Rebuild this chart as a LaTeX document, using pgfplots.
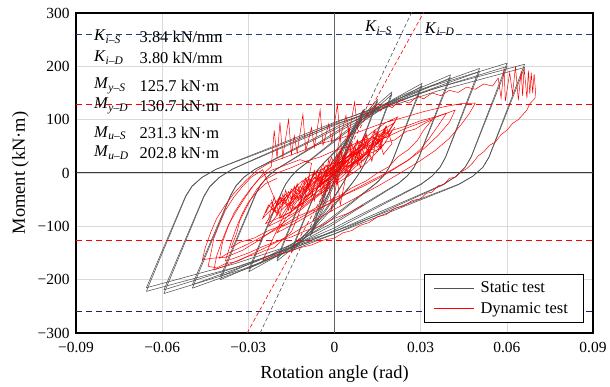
\documentclass[border=0pt]{standalone}
\usepackage{fontspec}
\setmainfont{Liberation Serif}
\usepackage{pgfplots}
\pgfplotsset{compat=1.18}
\definecolor{stc}{HTML}{505050}
\definecolor{navyd}{HTML}{1F3A80}
\definecolor{navyb}{HTML}{1C2A55}
\definecolor{gridc}{HTML}{D9D9D9}
\definecolor{zeroc}{HTML}{606060}
\pgfplotsset{
  st/.style={stc, line width=0.55pt, smooth, tension=0.5, forget plot, mark=none},
  sp/.style={stc, line width=0.55pt, forget plot, mark=none, line join=round},
  dy/.style={red, line width=0.5pt, forget plot, mark=none},
}
\newcommand{\ann}{\fontsize{16.5}{19}\selectfont}
\begin{document}
\begin{tikzpicture}
\begin{axis}[
  name=ax, scale only axis, width=517bp, height=320bp,
  xmin=-0.09, xmax=0.09, ymin=-300, ymax=300,
  scaled x ticks=false, scaled y ticks=false,
  xtick={-0.09,-0.06,-0.03,0,0.03,0.06,0.09},
  xticklabels={−0.09,−0.06,−0.03,0,0.03,0.06,0.09},
  ytick={-300,-200,-100,0,100,200,300},
  yticklabels={−300,−200,−100,0,100,200,300},
  grid=major, major grid style={gridc, line width=0.6pt},
  major tick length=0pt,
  axis line style={black, line width=1.2pt},
  tick label style={font=\fontsize{15.5}{18}\selectfont},
  xticklabel style={yshift=-6bp},
  yticklabel style={xshift=-3bp},
  label style={font=\fontsize{18.5}{22}\selectfont},
  xlabel={Rotation angle (rad)}, ylabel={Moment (kN·m)},
  xlabel style={yshift=-6bp},
  ylabel style={yshift=2bp},
  legend style={at={(rel axis cs:0.983,0.031)}, anchor=south east, draw=black, line width=0.8pt,
    font=\ann, inner xsep=10bp, inner ysep=6bp, row sep=4bp,
    nodes={inner xsep=6bp}},
  legend cell align=left,
  legend image code/.code={\draw[#1] (0bp,0bp) -- (40bp,0bp);},
]
\addlegendimage{stc, line width=0.7pt}
\addlegendentry{Static test}
\addlegendimage{red, line width=0.7pt}
\addlegendentry{Dynamic test}

% zero lines
\addplot[zeroc, line width=1pt, forget plot] coordinates {(0,-300) (0,300)};
\addplot[zeroc!60!black, line width=1pt, forget plot] coordinates {(-0.09,0) (0.09,0)};

% ---------- static test ----------
\addplot[st] coordinates {(-0.005,-62) (-0.0025,-22) (0,12) (0.0025,42) (0.005,62)};
\addplot[st] coordinates {(0.005,62) (0.0025,22) (0,-12) (-0.0025,-42) (-0.005,-62)};
\addplot[st] coordinates {(-0.0075,-90) (-0.004,-40) (0,15) (0.004,60) (0.0075,90)};
\addplot[st] coordinates {(0.0075,90) (0.004,40) (0,-15) (-0.004,-60) (-0.0075,-90)};
\addplot[st] coordinates {(-0.008,-115) (-0.0045,-55) (0,8) (0.005,70) (0.010,118)};
\addplot[st] coordinates {(0.010,118) (0.0055,55) (0.001,-8) (-0.004,-68) (-0.008,-115)};
\addplot[st] coordinates {(-0.0085,-118) (-0.005,-62) (0,2) (0.005,65) (0.0105,120)};
\addplot[st] coordinates {(0.0105,120) (0.006,62) (0.001,-2) (-0.004,-62) (-0.0085,-118)};
% S4
\addplot[st] coordinates {(-0.015,-148) (-0.00475,-14.8) (0.00234,44.9) (0.00867,97.3) (0.015,138)};
\addplot[st] coordinates {(0.015,138) (0.00613,13.8) (-0.00144,-57.7) (-0.00822,-108.5) (-0.015,-148)};
\addplot[st] coordinates {(-0.015,-143.6) (-0.00475,-14.1) (0.00234,42.7) (0.00867,92.4) (0.015,133.9)};
\addplot[st] coordinates {(0.015,133.9) (0.00613,13.1) (-0.00144,-54.8) (-0.00822,-103.1) (-0.015,-143.6)};
% S5
\addplot[st] coordinates {(-0.020,-165) (-0.00858,-16.5) (0.00165,49.4) (0.01083,107.1) (0.020,152)};
\addplot[st] coordinates {(0.020,152) (0.01023,15.2) (-0.00056,-64.3) (-0.01028,-120.9) (-0.020,-165)};
\addplot[st] coordinates {(-0.020,-160) (-0.00858,-15.7) (0.00165,46.9) (0.01083,101.7) (0.020,147.4)};
\addplot[st] coordinates {(0.020,147.4) (0.01023,14.4) (-0.00056,-61.1) (-0.01028,-114.9) (-0.020,-160)};
% S6
\addplot[sp] coordinates {(-0.0298,-185) (-0.0184,-37) (-0.017,-21.1) (-0.0151,-6.9) (-0.0129,5.8) (-0.0103,16.9) (0.004,78.9) (0.0183,131.7) (0.0305,168)};
\addplot[sp] coordinates {(0.0305,168) (0.0203,25.2) (0.0189,9.2) (0.0171,-5.3) (0.0148,-18.2) (0.0122,-29.6) (-0.0025,-93.3) (-0.0172,-147.7) (-0.0298,-185)};
\addplot[sp] coordinates {(-0.0298,-179.5) (-0.0184,-35.5) (-0.017,-20.3) (-0.0151,-6.6) (-0.0129,5.6) (-0.0103,16.2) (0.004,75.7) (0.0183,126.4) (0.0305,163)};
\addplot[sp] coordinates {(0.0305,163) (0.0203,24.2) (0.0189,8.8) (0.0171,-5.1) (0.0148,-17.5) (0.0122,-28.4) (-0.0025,-89.6) (-0.0172,-141.8) (-0.0298,-179.5)};
% S7
\addplot[sp] coordinates {(-0.0397,-200) (-0.0274,-40) (-0.0257,-22.8) (-0.0234,-7.4) (-0.0204,6.5) (-0.0168,18.6) (0.0032,86.4) (0.0232,144.3) (0.0404,184)};
\addplot[sp] coordinates {(0.0404,184) (0.0292,27.6) (0.0276,10.1) (0.0253,-5.7) (0.0223,-19.8) (0.0186,-32.1) (-0.0018,-100.9) (-0.0222,-159.7) (-0.0397,-200)};
\addplot[sp] coordinates {(-0.0397,-194) (-0.0274,-38.4) (-0.0257,-21.9) (-0.0234,-7.1) (-0.0204,6.2) (-0.0168,17.9) (0.0032,82.9) (0.0232,138.5) (0.0404,178.5)};
\addplot[sp] coordinates {(0.0404,178.5) (0.0292,26.5) (0.0276,9.7) (0.0253,-5.5) (0.0223,-19) (0.0186,-30.8) (-0.0018,-96.9) (-0.0222,-153.3) (-0.0397,-194)};
% S8
\addplot[sp] coordinates {(-0.0495,-216) (-0.0362,-43.2) (-0.0343,-24.7) (-0.0315,-8) (-0.0278,6.8) (-0.0232,19.7) (0.0026,92) (0.0284,153.7) (0.0505,196)};
\addplot[sp] coordinates {(0.0505,196) (0.0386,29.4) (0.0367,10.7) (0.0339,-6.2) (0.0302,-21.3) (0.0256,-34.5) (-0.0007,-108.9) (-0.027,-172.4) (-0.0495,-216)};
\addplot[sp] coordinates {(-0.0495,-209.5) (-0.0362,-41.5) (-0.0343,-23.7) (-0.0315,-7.7) (-0.0278,6.5) (-0.0232,18.9) (0.0026,88.3) (0.0284,147.6) (0.0505,190.1)};
\addplot[sp] coordinates {(0.0505,190.1) (0.0386,28.2) (0.0367,10.3) (0.0339,-6) (0.0302,-20.4) (0.0256,-33.1) (-0.0007,-104.5) (-0.027,-165.5) (-0.0495,-209.5)};
% S9
\addplot[sp] coordinates {(-0.0594,-226) (-0.0455,-45.2) (-0.0434,-25.8) (-0.0401,-8.4) (-0.0356,7.2) (-0.0301,20.8) (0.0015,96.7) (0.0331,161.6) (0.0601,206)};
\addplot[sp] coordinates {(0.0601,206) (0.0476,30.9) (0.0455,11.3) (0.0423,-6.5) (0.0378,-22.3) (0.0322,-36.2) (0.0001,-114) (-0.0319,-180.4) (-0.0594,-226)};
\addplot[sp] coordinates {(-0.0594,-219.2) (-0.0455,-43.4) (-0.0434,-24.8) (-0.0401,-8.1) (-0.0356,6.9) (-0.0301,20) (0.0015,92.8) (0.0331,155.1) (0.0601,199.8)};
\addplot[sp] coordinates {(0.0601,199.8) (0.0476,29.7) (0.0455,10.8) (0.0423,-6.2) (0.0378,-21.4) (0.0322,-34.8) (0.0001,-109.4) (-0.0319,-173.2) (-0.0594,-219.2)};
% S10
\addplot[sp] coordinates {(-0.0655,-222) (-0.0518,-44.4) (-0.0496,-25.3) (-0.0461,-8.2) (-0.0412,7.2) (-0.0350,20.6) (0.0004,95.8) (0.0358,160) (0.0662,204)};
\addplot[sp] coordinates {(0.0662,204) (0.0538,30.6) (0.0517,11.2) (0.0481,-6.4) (0.0432,-21.9) (0.0369,-35.6) (0.0011,-112) (-0.0348,-177.3) (-0.0655,-222)};
\addplot[sp] coordinates {(-0.0655,-215.3) (-0.0518,-42.6) (-0.0496,-24.3) (-0.0461,-7.9) (-0.0412,6.9) (-0.0350,19.8) (0.0004,92) (0.0358,153.6) (0.0662,197.9)};
\addplot[sp] coordinates {(0.0662,197.9) (0.0538,29.4) (0.0517,10.7) (0.0481,-6.1) (0.0432,-21) (0.0369,-34.2) (0.0011,-107.5) (-0.0348,-170.2) (-0.0655,-215.3)};

% ---------- dynamic test ----------
\addplot[dy] coordinates {
(0,0) (0.003,15) (0.001,4) (0.005,25) (0.002,8) (-0.003,-14) (-0.006,-28) (-0.004,-12)
(0.001,6) (0.006,30) (0.009,42) (0.006,22) (0.001,2) (-0.005,-25) (-0.009,-42) (-0.011,-50)
(-0.008,-30) (-0.003,-8) (0.003,18) (0.008,40) (0.012,55) (0.014,62) (0.011,40) (0.006,18)
(0,-10) (-0.006,-35) (-0.011,-55) (-0.015,-68) (-0.012,-45) (-0.007,-22) (-0.001,5) (0.005,32)
(0.01,52) (0.015,70) (0.018,80) (0.015,58) (0.01,32) (0.004,8) (-0.003,-22) (-0.009,-48)
(-0.015,-72) (-0.019,-85) (-0.016,-60) (-0.01,-32) (-0.004,-6) (0.003,25) (0.009,50) (0.014,72)
(0.019,88) (0.021,95) (0.018,70) (0.012,40) (0.006,14) (-0.001,-18) (-0.008,-50) (-0.014,-75)
(-0.02,-92) (-0.023,-100) (-0.019,-72) (-0.013,-42) (-0.006,-12)
(0,15) (0.002,70) (0.003,10) (0.005,85) (0.006,20) (0.008,60) (0.009,25) (0.011,75) (0.012,35)
(0.008,15) (0.004,-5) (0.002,-60) (0.001,-10) (-0.001,-70) (-0.002,-15) (-0.004,-55) (-0.005,-20)
(0.001,20) (0.008,55) (0.014,80) (0.018,95) (0.022,105) (0.019,80) (0.014,50) (0.008,20)
(0.002,-10) (-0.005,-40) (-0.012,-70) (-0.019,-98) (-0.026,-125) (-0.032,-145) (-0.038,-158)
(-0.043,-160) (-0.046,-163) (-0.045,-140) (-0.043,-110) (-0.041,-85) (-0.038,-60) (-0.035,-38)
(-0.031,-15) (-0.027,5) (-0.023,18) (-0.017,30) (-0.011,42) (-0.005,55) (0.002,65) (0.009,78)
(0.016,92) (0.024,104) (0.031,115) (0.038,124) (0.044,130) (0.049,131) (0.047,112) (0.044,90)
(0.04,65) (0.035,42) (0.029,20) (0.022,-3) (0.015,-25) (0.008,-45) (0,-68) (-0.008,-92)
(-0.016,-118) (-0.024,-140) (-0.031,-158) (-0.037,-172) (-0.042,-182) (-0.041,-155) (-0.039,-125)
(-0.037,-98) (-0.034,-70) (-0.031,-45) (-0.028,-22) (-0.025,-2) (-0.022,12)
(-0.021,80) (-0.02,28) (-0.019,95) (-0.018,30) (-0.016,100) (-0.015,35) (-0.014,70) (-0.013,38)
(-0.011,110) (-0.01,42) (-0.008,85) (-0.007,48) (-0.005,118) (-0.004,52) (-0.002,92) (-0.001,58)
(0.001,128) (0.002,66) (0.004,108) (0.005,72) (0.007,133) (0.008,82) (0.010,118) (0.012,104)
(0.014,126) (0.016,116) (0.018,130) (0.020,122) (0.023,137) (0.026,131) (0.029,144) (0.031,139)
(0.034,150) (0.037,145) (0.040,155) (0.043,151) (0.046,161) (0.049,157) (0.052,167) (0.055,163)
(0.057,178) (0.058,140) (0.059,196) (0.0595,135) (0.061,188) (0.062,148) (0.063,200) (0.064,136)
(0.065,192) (0.0655,144) (0.066,198) (0.067,140) (0.0675,192) (0.068,148) (0.0685,188) (0.069,150)
(0.0695,186) (0.070,152) (0.0698,140) (0.068,130) (0.067,118) (0.066,112) (0.064,100) (0.062,93)
(0.060,80) (0.058,72) (0.056,58) (0.054,52) (0.052,40) (0.050,32) (0.048,18) (0.046,8) (0.044,2)
(0.042,-8) (0.040,-10) (0.038,-22) (0.036,-24) (0.034,-36) (0.032,-38) (0.030,-48) (0.027,-52)
(0.024,-62) (0.021,-66) (0.018,-78) (0.015,-82) (0.012,-93) (0.009,-98) (0.006,-108) (0.003,-112)
(0,-122) (-0.004,-126) (-0.008,-135) (-0.012,-140) (-0.016,-148) (-0.020,-153) (-0.025,-163)
(-0.022,-130) (-0.019,-95) (-0.016,-65) (-0.012,-35) (-0.007,-10) (0,15) (0.008,40) (0.016,62)
(0.024,82) (0.032,98) (0.038,110) (0.042,118) (0.04,95) (0.036,70) (0.031,45) (0.025,22) (0.018,0)
(0.01,-22) (0.002,-45) (-0.006,-70) (-0.014,-95) (-0.02,-112) (-0.017,-85) (-0.012,-55) (-0.006,-25) (0,0)
};
\addplot[dy] coordinates {
(0,-5) (0.004,12) (0.007,18) (0.011,35) (0.014,40) (0.018,58) (0.021,62) (0.025,78) (0.028,82)
(0.032,95) (0.034,100) (0.031,80) (0.029,62) (0.026,45) (0.022,30) (0.019,12) (0.015,0) (0.011,-15)
(0.006,-28) (0.002,-42) (-0.003,-55) (-0.008,-70) (-0.013,-82) (-0.018,-98) (-0.023,-108) (-0.028,-122)
(-0.033,-130) (-0.036,-140) (-0.034,-112) (-0.033,-90) (-0.031,-68) (-0.029,-48) (-0.027,-30)
(-0.024,-12) (-0.02,0) (-0.015,10) (-0.01,22) (-0.005,30) (0,42) (0.005,50) (0.01,62) (0.015,68)
(0.02,80) (0.025,88) (0.03,98) (0.035,105) (0.039,112) (0.036,88) (0.033,65) (0.03,45) (0.026,25)
(0.021,8) (0.016,-8) (0.01,-25) (0.004,-40) (-0.002,-58) (-0.008,-72) (-0.014,-90) (-0.02,-105)
(-0.026,-122) (-0.032,-138) (-0.037,-150) (-0.04,-160) (-0.039,-130) (-0.037,-100) (-0.035,-75)
(-0.032,-50) (-0.029,-28) (-0.026,-10) (-0.022,5) (-0.017,15) (-0.012,25) (-0.008,18) (-0.01,-40)
(-0.013,-85) (-0.015,-110) (-0.018,-125) (-0.021,-140) (-0.024,-145) (-0.027,-152) (-0.03,-156)
(-0.034,-166) (-0.038,-170) (-0.041,-178) (-0.044,-175) (-0.043,-150) (-0.042,-122) (-0.04,-95)
(-0.038,-70) (-0.035,-45) (-0.032,-25) (-0.029,-8) (-0.025,6) (-0.02,-60) (-0.017,-40) (-0.015,-50)
(-0.012,-25) (-0.01,-35) (-0.007,-8) (-0.005,-18) (-0.002,10) (0,0) (0.003,28) (0.005,18) (0.008,42)
(0.01,32) (0.013,55) (0.015,48) (0.017,65) (0.015,40) (0.013,45) (0.01,22) (0.008,28) (0.005,2)
(0.003,8) (0,-18) (-0.002,-10) (-0.005,-35) (-0.007,-28) (-0.01,-50) (-0.012,-42) (-0.015,-62)
(-0.017,-55) (-0.02,-72) (-0.022,-65) (-0.019,-45) (-0.017,-52) (-0.014,-28) (-0.012,-35) (-0.009,-10)
(-0.007,-18) (-0.004,8) (-0.002,0) (0.001,25) (0.003,18) (0.006,40) (0.008,33) (0.011,55) (0.013,50)
(0.016,70) (0.018,66) (0.02,78) (0.017,52) (0.014,35) (0.011,18) (0.007,2) (0.003,-12) (-0.001,-25)
(-0.006,-42) (-0.011,-58) (-0.016,-75) (-0.021,-88) (-0.024,-95) (-0.02,-62) (-0.016,-40) (-0.012,-18) (-0.007,0) (0,20)
};
\addplot[dy] coordinates {
(-0.024,-75) (-0.022,-55) (-0.021,-68) (-0.019,-45) (-0.018,-58) (-0.016,-35) (-0.015,-48) (-0.013,-22)
(-0.012,-36) (-0.01,-10) (-0.009,-25) (-0.007,5) (-0.006,-12) (-0.004,18) (-0.003,2) (-0.001,30) (0,12)
(0.002,42) (0.003,25) (0.005,52) (0.006,38) (0.008,62) (0.009,48) (0.011,72) (0.012,58) (0.014,80)
(0.016,70) (0.018,88) (0.016,60) (0.014,66) (0.012,42) (0.01,50) (0.008,28) (0.006,35) (0.004,12)
(0.002,20) (0,-5) (-0.002,5) (-0.004,-20) (-0.006,-10) (-0.008,-35) (-0.01,-25) (-0.012,-50) (-0.014,-40)
(-0.016,-62) (-0.018,-55) (-0.02,-75) (-0.022,-68) (-0.025,-85) (-0.023,-60) (-0.021,-70) (-0.019,-48)
(-0.017,-56) (-0.015,-30) (-0.013,-40) (-0.011,-15) (-0.009,-26) (-0.007,0) (-0.005,-10) (-0.003,15)
(-0.001,5) (0.001,32) (0.003,20) (0.005,45) (0.007,35) (0.009,58) (0.011,50) (0.013,68) (0.015,60)
(0.017,78) (0.019,72) (0.021,86)
};
\addplot[dy] coordinates {
(-0.022,-50) (-0.02,-80) (-0.018,-40) (-0.016,-70) (-0.014,-25) (-0.012,-60) (-0.01,-10) (-0.008,-45)
(-0.006,5) (-0.004,-30) (-0.002,25) (0,-15) (0.002,40) (0.004,0) (0.006,55) (0.008,15) (0.01,68)
(0.012,30) (0.014,78) (0.016,45) (0.018,88) (0.02,55) (0.017,35) (0.015,75) (0.013,22) (0.011,62)
(0.009,10) (0.007,50) (0.005,-5) (0.003,35) (0.001,-22) (-0.001,20) (-0.003,-38) (-0.005,5)
(-0.007,-52) (-0.009,-8) (-0.011,-62) (-0.013,-20) (-0.015,-72) (-0.017,-32) (-0.019,-82) (-0.021,-45) (-0.023,-88)
};
\addplot[dy] coordinates {
(0.01,-60) (0.005,-75) (0,-85) (-0.005,-100) (-0.01,-108) (-0.015,-120) (-0.02,-128) (-0.025,-138)
(-0.03,-150) (-0.035,-160) (-0.038,-165) (-0.036,-130) (-0.034,-100) (-0.032,-75) (-0.03,-55)
(-0.027,-35) (-0.024,-20) (-0.02,-10)
};

% ---------- reference lines ----------
\addplot[navyd, line width=1pt, dash pattern=on 6bp off 4bp, forget plot] coordinates {(-0.09,260) (0.09,260)};
\addplot[navyb, line width=1pt, dash pattern=on 6bp off 4bp, forget plot] coordinates {(-0.09,-260) (0.09,-260)};
\addplot[red, line width=1pt, dash pattern=on 6bp off 4bp, forget plot] coordinates {(-0.09,128) (0.09,128)};
\addplot[red, line width=1pt, dash pattern=on 6bp off 4bp, forget plot] coordinates {(-0.09,-127) (0.09,-127)};
\addplot[stc, line width=0.6pt, dash pattern=on 4bp off 2.5bp, forget plot] coordinates {(-0.0259,-300) (0.0285,320)};
\addplot[red, line width=0.6pt, dash pattern=on 4bp off 2.5bp, forget plot] coordinates {(-0.0304,-300) (0.0330,320)};

% ---------- annotations ----------
\node[anchor=west, font=\ann, inner sep=0pt] at (axis cs:-0.0838,255.6) {\textit{K}\textsubscript{\textit{i}–\textit{S}}};
\node[anchor=west, font=\ann, inner sep=0pt] at (axis cs:-0.0679,255.6) {3.84 kN/mm};
\node[anchor=west, font=\ann, inner sep=0pt] at (axis cs:-0.0838,216) {\textit{K}\textsubscript{\textit{i}–\textit{D}}};
\node[anchor=west, font=\ann, inner sep=0pt] at (axis cs:-0.0679,216) {3.80 kN/mm};
\node[anchor=west, font=\ann, inner sep=0pt] at (axis cs:-0.0838,163) {\textit{M}\textsubscript{\textit{y}–\textit{S}}};
\node[anchor=west, font=\ann, inner sep=0pt] at (axis cs:-0.0679,163) {125.7 kN·m};
\node[anchor=west, font=\ann, inner sep=0pt] at (axis cs:-0.0838,125.6) {\textit{M}\textsubscript{\textit{y}–\textit{D}}};
\node[anchor=west, font=\ann, inner sep=0pt] at (axis cs:-0.0679,125.6) {130.7 kN·m};
\node[anchor=west, font=\ann, inner sep=0pt] at (axis cs:-0.0838,74.4) {\textit{M}\textsubscript{\textit{u}–\textit{S}}};
\node[anchor=west, font=\ann, inner sep=0pt] at (axis cs:-0.0679,74.4) {231.3 kN·m};
\node[anchor=west, font=\ann, inner sep=0pt] at (axis cs:-0.0838,38) {\textit{M}\textsubscript{\textit{u}–\textit{D}}};
\node[anchor=west, font=\ann, inner sep=0pt] at (axis cs:-0.0679,38) {202.8 kN·m};
\node[font=\ann, inner sep=0pt] at (axis cs:0.0153,272) {\textit{K}\textsubscript{\textit{i}–\textit{S}}};
\node[font=\ann, inner sep=0pt] at (axis cs:0.0366,270) {\textit{K}\textsubscript{\textit{i}–\textit{D}}};
\end{axis}
\pgfresetboundingbox
\path ([shift={(-76bp,-54bp)}]ax.south west) rectangle ([shift={(17bp,13bp)}]ax.north east);
\end{tikzpicture}
\end{document}
